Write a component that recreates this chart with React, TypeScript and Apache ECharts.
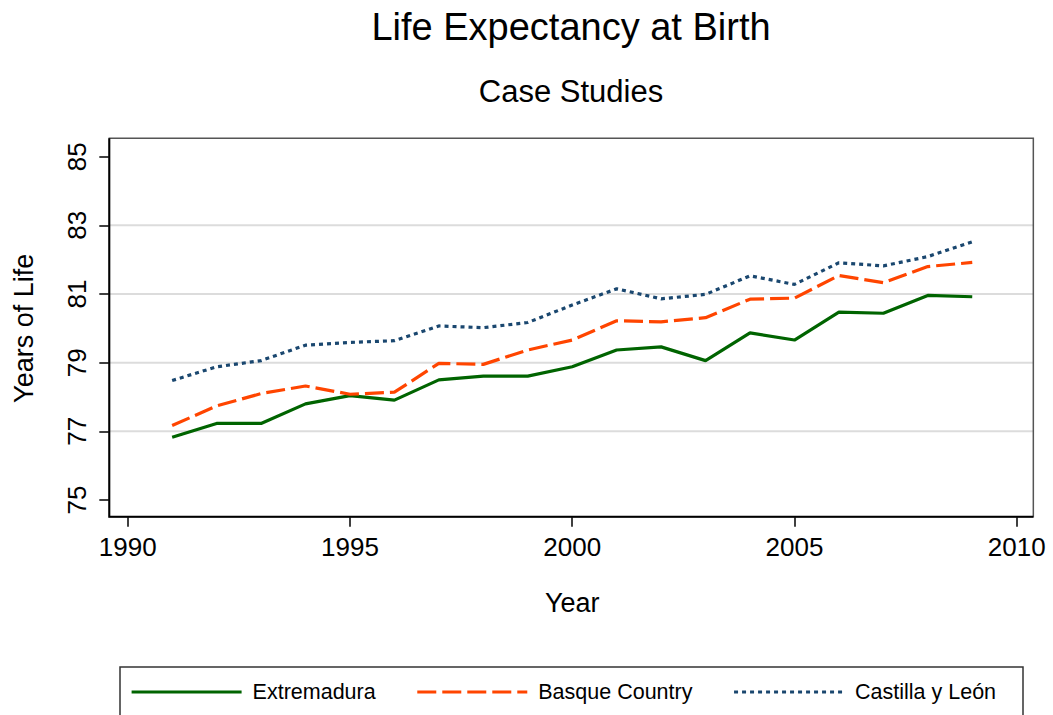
import React, { useEffect, useRef } from "react";
import * as echarts from "echarts";

const years = [1991, 1992, 1993, 1994, 1995, 1996, 1997, 1998, 1999, 2000, 2001, 2002, 2003, 2004, 2005, 2006, 2007, 2008, 2009];
const extremadura = [76.83, 77.23, 77.23, 77.8, 78.04, 77.91, 78.5, 78.61, 78.61, 78.88, 79.37, 79.46, 79.06, 79.87, 79.66, 80.47, 80.44, 80.96, 80.92];
const basque = [77.17, 77.74, 78.1, 78.32, 78.08, 78.14, 78.98, 78.95, 79.37, 79.66, 80.22, 80.19, 80.31, 80.85, 80.88, 81.54, 81.33, 81.8, 81.92];
const castilla = [78.48, 78.88, 79.06, 79.51, 79.59, 79.64, 80.07, 80.02, 80.17, 80.68, 81.15, 80.86, 80.99, 81.53, 81.28, 81.91, 81.82, 82.09, 82.52];
const seriesNames = ["Extremadura", "Basque Country", "Castilla y León"];
const yGridValues = [77, 79, 81, 83];

const FONT = "'Liberation Sans', Arial, sans-serif";

export default function App() {
  const ref = useRef<HTMLDivElement>(null);
  useEffect(() => {
    document.body.style.margin = "0";
    const chart = echarts.init(ref.current!, null, { renderer: "svg" });
    const pair = (arr: number[]) => years.map((y, i) => [y, arr[i]]);
    const option: any = {
      animation: false,
      backgroundColor: "#ffffff",
      textStyle: { fontFamily: FONT, color: "#000" },
      title: [
        {
          text: "Life Expectancy at Birth",
          left: 571,
          top: 8,
          textAlign: "center",
          padding: 0,
          textStyle: { fontFamily: FONT, fontSize: 38, fontWeight: "normal", color: "#000" },
        },
        {
          text: "Case Studies",
          left: 571,
          top: 76,
          textAlign: "center",
          padding: 0,
          textStyle: { fontFamily: FONT, fontSize: 31, fontWeight: "normal", color: "#000" },
        },
      ],
      grid: { left: 127.7, right: 36.3, top: 156.7, bottom: 215, containLabel: false },
      xAxis: {
        type: "value",
        min: 1990,
        max: 2010,
        interval: 5,
        offset: 16.7,
        name: "Year",
        nameLocation: "middle",
        nameGap: 73,
        nameTextStyle: { fontFamily: FONT, fontSize: 27, color: "#000" },
        axisLine: { show: false },
        axisTick: { show: true, length: 10, lineStyle: { color: "#000", width: 1.5 } },
        axisLabel: { fontFamily: FONT, fontSize: 26, color: "#000", margin: 17, formatter: (v: number) => String(v) },
        splitLine: { show: false },
      },
      yAxis: {
        type: "value",
        min: 75,
        max: 85,
        interval: 2,
        offset: 18.4,
        name: "Years of Life",
        nameLocation: "middle",
        nameGap: 72,
        nameRotate: 90,
        nameTextStyle: { fontFamily: FONT, fontSize: 27, color: "#000" },
        axisLine: { show: false },
        axisTick: { show: true, length: 10, lineStyle: { color: "#000", width: 1.5 } },
        axisLabel: { fontFamily: FONT, fontSize: 26, color: "#000", margin: 19, rotate: 90 },
        splitLine: { show: false },
      },
      legend: {
        left: 130,
        top: 681,
        itemWidth: 110,
        itemHeight: 20,
        itemGap: 40,
        padding: 0,
        itemStyle: { color: "rgba(0,0,0,0)", borderWidth: 0, opacity: 0 },
        lineStyle: { width: 3.2 },
        textStyle: { fontFamily: FONT, fontSize: 21.5, color: "#000", padding: [0, 0, 0, 6] },
        data: seriesNames,
      },
      series: [
        {
          name: seriesNames[0],
          type: "line",
          data: pair(extremadura),
          symbol: "none",
          lineStyle: { color: "#006400", width: 3.2, type: "solid" },
          itemStyle: { color: "#006400" },
          z: 3,
        },
        {
          name: seriesNames[1],
          type: "line",
          data: pair(basque),
          symbol: "none",
          lineStyle: { color: "#ff4500", width: 3.2, type: [19, 6], cap: "butt" },
          itemStyle: { color: "#ff4500" },
          z: 4,
        },
        {
          name: seriesNames[2],
          type: "line",
          data: pair(castilla),
          symbol: "none",
          lineStyle: { color: "#1a476f", width: 3.2, type: [4, 4], cap: "butt" },
          itemStyle: { color: "#1a476f" },
          z: 5,
        },
      ],
    };
    chart.setOption(option);

    // frame & gridlines derived from axis scales
    const px = (x: number, y: number) => chart.convertToPixel({ gridIndex: 0 }, [x, y]) as number[];
    const tl = px(1989.586, 85.536);
    const br = px(2010.374, 74.514);
    const left = tl[0], top = tl[1], right = br[0], bottom = br[1];
    const gridLines = yGridValues.map((v) => {
      const y = px(2000, v)[1];
      return {
        type: "line",
        z: 1,
        shape: { x1: left, y1: y, x2: right, y2: y },
        style: { stroke: "#dcdcdc", lineWidth: 2 },
        silent: true,
      };
    });
    chart.setOption({
      graphic: [
        ...gridLines,
        {
          type: "rect",
          z: 2,
          shape: { x: left, y: top, width: right - left, height: bottom - top },
          style: { fill: "none", stroke: "#555", lineWidth: 1.5 },
          silent: true,
        },
        {
          type: "polyline",
          z: 2,
          shape: { points: [[left, top], [left, bottom], [right, bottom]] },
          style: { fill: "none", stroke: "#000", lineWidth: 2 },
          silent: true,
        },
        {
          type: "rect",
          z: 0,
          shape: { x: 120, y: 667, width: 903, height: 60 },
          style: { fill: "#fff", stroke: "#333", lineWidth: 1.5 },
          silent: true,
        },
      ],
    });
    return () => chart.dispose();
  }, []);
  return <div ref={ref} style={{ width: 1053, height: 715 }} />;
}
